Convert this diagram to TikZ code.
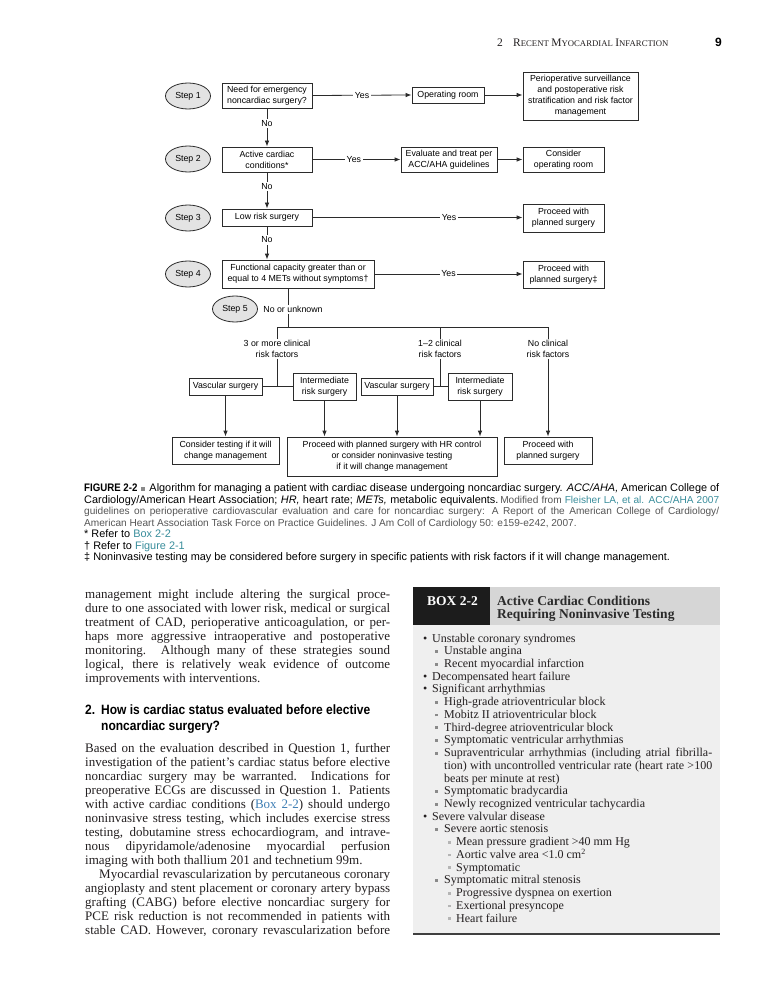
\documentclass[tikz,border=0pt]{standalone}
\usepackage{fontspec}
\setmainfont{Liberation Serif}
\newfontfamily\sansf{Liberation Sans}
\newfontfamily\condf[FakeStretch=0.89]{Liberation Sans}
\usetikzlibrary{shapes.geometric,arrows.meta}
\definecolor{linec}{HTML}{2B2B2B}
\definecolor{ellfill}{HTML}{E3E3E3}
\definecolor{bodytext}{HTML}{231F20}
\definecolor{bodylink}{HTML}{3F7FB5}
\definecolor{capteal}{HTML}{3A8E9C}
\definecolor{capgray}{HTML}{555555}
\definecolor{boxhead}{HTML}{D6D6D6}
\definecolor{boxbody}{HTML}{EFEFEF}
\definecolor{boxdark}{HTML}{1C1C1C}
\definecolor{bul2}{HTML}{8A8A8A}
\definecolor{bul3}{HTML}{B5B5B5}
\newcommand{\jline}[4]{\node[anchor=base west,inner sep=0pt] at (#1,#2) {\makebox[#3pt][s]{#4}};}
\newcommand{\lline}[3]{\node[anchor=base west,inner sep=0pt] at (#1,#2) {#3};}
\newcommand{\bA}[2]{\node[anchor=base west,inner sep=0pt] at (423,#1) {\textbullet}; \node[anchor=base west,inner sep=0pt] at (432,#1) {#2};}
\newcommand{\bB}[2]{\node[anchor=base west,inner sep=0pt] at (435,#1) {\textcolor{bul2}{\rule[2pt]{2.8pt}{2.8pt}}}; \node[anchor=base west,inner sep=0pt] at (444,#1) {#2};}
\newcommand{\bC}[2]{\node[anchor=base west,inner sep=0pt] at (448,#1) {\textcolor{bul3}{\rule[2pt]{2.8pt}{2.8pt}}}; \node[anchor=base west,inner sep=0pt] at (456,#1) {#2};}
\newcommand{\fakesc}[2]{{\fontsize{11.5}{11.5}\selectfont #1}{\fontsize{8.7}{8.7}\selectfont #2}}
\newcommand{\capg}[1]{{\fontsize{10.1}{11.5}\selectfont\color{capgray}#1}}
\begin{document}
\begin{tikzpicture}[x=1pt,y=-1pt,
  flowfont/.style={font=\sansf\fontsize{8.8}{11}\selectfont, text=black},
  fb/.style 2 args={draw=linec, line width=0.8pt, fill=white, align=center, inner sep=1pt,
     minimum width=#1, minimum height=#2, flowfont},
  stepell/.style={ellipse, draw=linec, fill=ellfill, line width=0.8pt, minimum width=45pt,
     minimum height=26pt, inner sep=0pt, flowfont},
  rlabel/.style={align=center, inner sep=1pt, flowfont},
  conn/.style={draw=linec, line width=0.8pt},
  arr/.style={conn, -{Latex[length=6pt,width=4.5pt]}},
  lbl/.style={fill=white, inner sep=1.5pt, flowfont}]
\fill[white] (0,0) rectangle (781,1000);
\useasboundingbox (0,0) rectangle (781,1000);

% running header
\node[anchor=base west,inner sep=0pt,text=bodytext,font=\fontsize{11.5}{11.5}\selectfont] (hnum) at (497,47) {2};
\node[anchor=base west,inner sep=0pt,text=bodytext] (htitle) at (513,47) {\fakesc{R}{ECENT} \fakesc{M}{YOCARDIAL} \fakesc{I}{NFARCTION}};
\node[anchor=base west,inner sep=0pt,text=black,font=\sansf\bfseries\fontsize{12}{12}\selectfont] (hpage) at (715,47) {9};

% flowchart
\node[stepell] (s1) at (188,96) {Step 1};
\node[fb={90pt}{25pt}] (b1) at (267,95.5) {Need for emergency\\noncardiac surgery?};
\node[fb={72pt}{16pt}] (op) at (448,95) {Operating room};
\node[fb={115pt}{48pt}] (peri) at (580.5,96) {Perioperative surveillance\\and postoperative risk\\stratification and risk factor\\management};
\node[stepell] (s2) at (188,159) {Step 2};
\node[fb={90pt}{25pt}] (b2) at (267,159.5) {Active cardiac\\conditions*};
\node[fb={96pt}{25pt}] (ev) at (449,159.5) {Evaluate and treat per\\ACC/AHA guidelines};
\node[fb={81pt}{25pt}] (cons) at (563.5,159.5) {Consider\\operating room};
\node[stepell] (s3) at (188,218) {Step 3};
\node[fb={90pt}{17pt}] (b3) at (267,217.5) {Low risk surgery};
\node[fb={81pt}{28pt}] (p3) at (563.5,218) {Proceed with\\planned surgery};
\node[stepell] (s4) at (188,274) {Step 4};
\node[fb={152pt}{28pt}] (b4) at (298,274) {Functional capacity greater than or\\equal to 4 METs without symptoms†};
\node[fb={81pt}{27pt}] (p4) at (563.5,274.5) {Proceed with\\planned surgery‡};
\node[stepell] (s5) at (235,309) {Step 5};
\node[rlabel] (l1) at (277,349) {3 or more clinical\\risk factors};
\node[rlabel] (l2) at (440,349) {1–2 clinical\\risk factors};
\node[rlabel] (l3) at (548,349) {No clinical\\risk factors};
\node[fb={73pt}{17pt}] (v1) at (225.5,386.5) {Vascular surgery};
\node[fb={63pt}{27pt}] (i1) at (324.5,386.5) {Intermediate\\risk surgery};
\node[fb={72pt}{17pt}] (v2) at (397,386.5) {Vascular surgery};
\node[fb={64pt}{27pt}] (i2) at (480,386.5) {Intermediate\\risk surgery};
\node[fb={107pt}{27pt}] (c1) at (225.5,450.5) {Consider testing if it will\\change management};
\node[fb={210pt}{39pt}] (c2) at (392,456.5) {Proceed with planned surgery with HR control\\or consider noninvasive testing\\if it will change management};
\node[fb={88pt}{27pt}] (c3) at (548,450.5) {Proceed with\\planned surgery};
\coordinate (j5) at (288,327);
\coordinate (hL) at (277,327);
\coordinate (hM) at (440,327);
\coordinate (hR) at (548,327);

\draw[arr] (b1.east) -- node[lbl]{Yes} (op.west);
\draw[arr] (op.east) -- (op.east -| peri.west);
\draw[arr] (b1.south) -- node[lbl,pos=0.4]{No} (b2.north);
\draw[arr] (b2.east) -- node[lbl,pos=0.47]{Yes} (ev.west);
\draw[arr] (ev.east) -- (cons.west);
\draw[arr] (b2.south) -- node[lbl,pos=0.4]{No} (b3.north);
\draw[arr] (b3.east) -- node[lbl,pos=0.65]{Yes} (b3.east -| p3.west);
\draw[arr] (b3.south) -- node[lbl,pos=0.41]{No} (b3.south |- b4.north);
\draw[arr] (b4.east) -- node[lbl]{Yes} (b4.east -| p4.west);
\draw[conn] (b4.south -| j5) -- node[lbl,pos=0.54,xshift=5pt]{No or unknown} (j5);
\draw[conn] (hL) -- (hR);
\draw[conn] (hL) -- (l1.north);
\draw[conn] (hM) -- (l2.north);
\draw[conn] (hR) -- (l3.north);
\draw[conn] (l1.south) -- (l1.south |- v1.east);
\draw[conn] (v1.east) -- (i1.west);
\draw[conn] (l2.south) -- (l2.south |- v2.east);
\draw[conn] (v2.east) -- (i2.west);
\draw[arr] (l3.south) -- (c3.north);
\draw[arr] (v1.south) -- (v1.south |- c1.north);
\draw[arr] (i1.south) -- (i1.south |- c2.north);
\draw[arr] (v2.south) -- (v2.south |- c2.north);
\draw[arr] (i2.south) -- (i2.south |- c2.north);

% caption
\begin{scope}[nodes={font=\sansf\fontsize{10.9}{11.5}\selectfont, text=black}]
\jline{84}{491.5}{635}{{\condf\bfseries FIGURE 2-2}\hspace{4pt}\textcolor{bul2}{\rule[1pt]{4pt}{4pt}}\hspace{4pt}Algorithm for managing a patient with cardiac disease undergoing noncardiac surgery. \textit{ACC/AHA,} American College of}
\jline{84}{503}{635}{Cardiology/American Heart Association; \textit{HR,} heart rate; \textit{METs,} metabolic equivalents.\,\capg{Modified from \textcolor{capteal}{Fleisher LA, et al. ACC/AHA 2007}}}
\jline{84}{514.5}{635}{\capg{guidelines on perioperative cardiovascular evaluation and care for noncardiac surgery: A Report of the American College of Cardiology/}}
\lline{84}{526}{\capg{American Heart Association Task Force on Practice Guidelines. J Am Coll of Cardiology 50: e159-e242, 2007.}}
\lline{84}{537.5}{* Refer to \textcolor{capteal}{Box 2-2}}
\lline{84}{549}{† Refer to \textcolor{capteal}{Figure 2-1}}
\lline{84}{560.5}{‡ Noninvasive testing may be considered before surgery in specific patients with risk factors if it will change management.}
\end{scope}

% left column body text
\begin{scope}[nodes={font=\fontsize{13}{14}\selectfont, text=bodytext}]
\jline{85}{598}{305}{management might include altering the surgical proce-}
\jline{85}{612}{305}{dure to one associated with lower risk, medical or surgical}
\jline{85}{626}{305}{treatment of CAD, perioperative anticoagulation, or per-}
\jline{85}{640}{305}{haps more aggressive intraoperative and postoperative}
\jline{85}{654}{305}{monitoring. Although many of these strategies sound}
\jline{85}{668}{305}{logical, there is relatively weak evidence of outcome}
\lline{85}{682}{improvements with interventions.}
\jline{85}{752}{305}{Based on the evaluation described in Question 1, further}
\jline{85}{766}{305}{investigation of the patient's cardiac status before elective}
\jline{85}{780}{305}{noncardiac surgery may be warranted. Indications for}
\jline{85}{794}{305}{preoperative ECGs are discussed in Question 1. Patients}
\jline{85}{808}{305}{with active cardiac conditions (\textcolor{bodylink}{Box 2-2}) should undergo}
\jline{85}{822}{305}{noninvasive stress testing, which includes exercise stress}
\jline{85}{836}{305}{testing, dobutamine stress echocardiogram, and intrave-}
\jline{85}{850}{305}{nous dipyridamole/adenosine myocardial perfusion}
\lline{85}{864}{imaging with both thallium 201 and technetium 99m.}
\jline{99}{878}{291}{Myocardial revascularization by percutaneous coronary}
\jline{85}{892}{305}{angioplasty and stent placement or coronary artery bypass}
\jline{85}{906}{305}{grafting (CABG) before elective noncardiac surgery for}
\jline{85}{920}{305}{PCE risk reduction is not recommended in patients with}
\jline{85}{934}{305}{stable CAD. However, coronary revascularization before}
\end{scope}
\begin{scope}[nodes={font=\condf\bfseries\fontsize{13.5}{16}\selectfont, text=black}]
\lline{85}{714}{2.}
\lline{101}{714}{How is cardiac status evaluated before elective}
\lline{101}{730}{noncardiac surgery?}
\end{scope}

% Box 2-2
\fill[boxbody] (413,625) rectangle (720,934);
\fill[boxdark] (413,587) rectangle (490,625);
\fill[boxhead] (490,587) rectangle (720,625);
\draw[line width=1.8pt, draw=linec!90] (413,934) -- (720,934);
\node[anchor=base west,inner sep=0pt,text=white,font=\bfseries\fontsize{13.5}{13.5}\selectfont] (boxlab) at (427,605) {BOX 2-2};
\node[anchor=base west,inner sep=0pt,text=linec,font=\bfseries\fontsize{13.5}{13.5}\selectfont] (boxt1) at (497,605) {Active Cardiac Conditions};
\node[anchor=base west,inner sep=0pt,text=linec,font=\bfseries\fontsize{13.5}{13.5}\selectfont] (boxt2) at (497,618) {Requiring Noninvasive Testing};
\begin{scope}[nodes={font=\fontsize{12}{12.7}\selectfont, text=bodytext}]
\bA{642}{Unstable coronary syndromes}
\bB{654.7}{Unstable angina}
\bB{667.5}{Recent myocardial infarction}
\bA{680.2}{Decompensated heart failure}
\bA{692.9}{Significant arrhythmias}
\bB{705.6}{High-grade atrioventricular block}
\bB{718.4}{Mobitz II atrioventricular block}
\bB{731.1}{Third-degree atrioventricular block}
\bB{743.8}{Symptomatic ventricular arrhythmias}
\node[anchor=base west,inner sep=0pt] at (435,756.5) {\textcolor{bul2}{\rule[2pt]{2.8pt}{2.8pt}}};
\jline{444}{756.5}{268}{Supraventricular arrhythmias (including atrial fibrilla-}
\jline{444}{769.3}{268}{tion) with uncontrolled ventricular rate (heart rate >100}
\lline{444}{782}{beats per minute at rest)}
\bB{794.7}{Symptomatic bradycardia}
\bB{807.5}{Newly recognized ventricular tachycardia}
\bA{820.2}{Severe valvular disease}
\bB{832.9}{Severe aortic stenosis}
\bC{845.6}{Mean pressure gradient >40 mm Hg}
\bC{858.4}{Aortic valve area <1.0 cm\textsuperscript{2}}
\bC{871.1}{Symptomatic}
\bB{883.8}{Symptomatic mitral stenosis}
\bC{896.5}{Progressive dyspnea on exertion}
\bC{909.3}{Exertional presyncope}
\bC{922}{Heart failure}
\end{scope}
\end{tikzpicture}
\end{document}
